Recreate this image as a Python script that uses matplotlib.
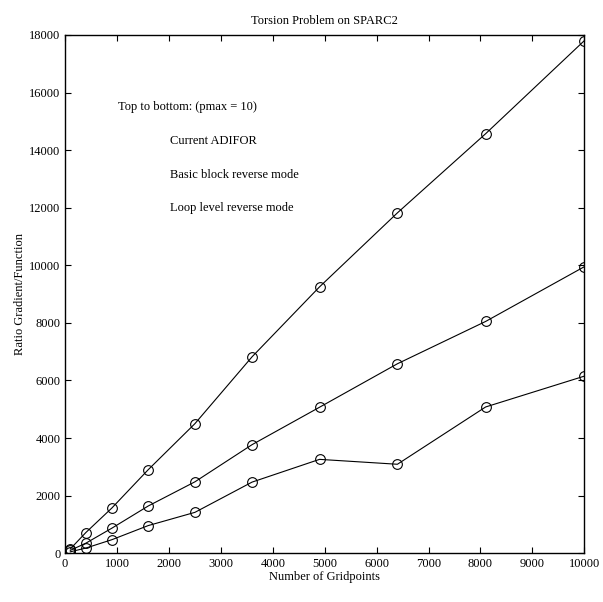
import numpy as np, matplotlib
matplotlib.use('Agg')
import matplotlib.pyplot as plt

plt.rcParams['font.family'] = ['Liberation Serif', 'DejaVu Serif']

gridpoints = [100, 400, 900, 1600, 2500, 3600, 4900, 6400, 8100, 10000]
current_adifor = [150, 720, 1570, 2900, 4500, 6820, 9250, 11820, 14570, 17800]
basic_block = [100, 350, 870, 1640, 2480, 3770, 5070, 6580, 8050, 9950]
loop_level = [50, 180, 470, 960, 1420, 2470, 3260, 3090, 5080, 6150]
legend_lines = ["Current ADIFOR", "Basic block reverse mode", "Loop level reverse mode"]

fig = plt.figure(figsize=(6.03, 6.02), dpi=100)
ax = fig.add_axes([0.108, 0.081, 0.861, 0.861])
for ys in (current_adifor, basic_block, loop_level):
    ax.plot(gridpoints, ys, '-', color='black', lw=0.8,
            marker='o', ms=7, mfc='none', mec='black', mew=0.8)

ax.set_xlim(0, 10000); ax.set_ylim(0, 18000)
ax.set_xticks(np.arange(0, 10001, 1000)); ax.set_yticks(np.arange(0, 18001, 2000))
ax.tick_params(direction='in', top=True, right=True, labelsize=9, length=4, width=0.8)
for sp in ax.spines.values(): sp.set_linewidth(1.0)

ax.set_xlabel("Number of Gridpoints", fontsize=9, labelpad=1)
ax.set_ylabel("Ratio Gradient/Function", fontsize=9, labelpad=2)
ax.set_title("Torsion Problem on SPARC2", fontsize=9, pad=8)

ax.text(1020, 15500, "Top to bottom: (pmax = 10)", fontsize=9, va='center')
for i, s in enumerate(legend_lines):
    ax.text(2020, 14300 - i * 1150, s, fontsize=9, va='center')

fig.savefig('out.png', dpi=100)
